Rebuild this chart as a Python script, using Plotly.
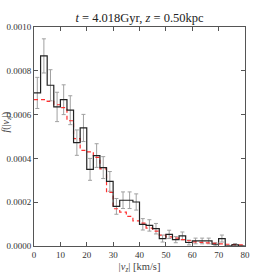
import plotly.graph_objects as go

# bin edges (km/s) and histogram values f(|v_z|)
bin_width = 2.5
bin_starts = [i * 2.5 for i in range(32)]
hist_vals = [0.000699, 0.000868, 0.000734, 0.000635, 0.000668, 0.000620, 0.000472, 0.000539,
             0.000350, 0.000413, 0.000358, 0.000295, 0.000181, 0.000209, 0.000209, 0.000201,
             0.000099, 0.000094, 0.000079, 0.000034, 0.000053, 0.000029, 0.000046, 0.000016,
             0.000023, 0.000023, 0.000023, 0.000008, 0.000034, 0.000000, 0.000005, 0.000000]
hist_errs = [0.000071, 0.000078, 0.000071, 0.000067, 0.000068, 0.000066, 0.000058, 0.000062,
             0.000050, 0.000054, 0.000050, 0.000045, 0.000036, 0.000038, 0.000038, 0.000037,
             0.000026, 0.000026, 0.000024, 0.000016, 0.000019, 0.000014, 0.000018, 0.000011,
             0.000013, 0.000013, 0.000013, 0.000007, 0.000016, 0.000000, 0.000006, 0.000000]
model_vals = [0.000668, 0.000668, 0.000660, 0.000645, 0.000632, 0.000572, 0.000490, 0.000437,
              0.000430, 0.000405, 0.000352, 0.000245, 0.000170, 0.000155, 0.000135, 0.000115,
              0.000104, 0.000082, 0.000068, 0.000050, 0.000042, 0.000036, 0.000029, 0.000024,
              0.000019, 0.000017, 0.000014, 0.000012, 0.000010, 0.000008, 0.000006, 0.000005]
x_end = 80.0

y_ticks = [0.0, 0.0002, 0.0004, 0.0006, 0.0008, 0.0010]
y_tick_text = ["0.0000", "0.0002", "0.0004", "0.0006", "0.0008", "0.0010"]
x_ticks = [0, 10, 20, 30, 40, 50, 60, 70, 80]

step_x = bin_starts + [x_end]
centers = [s + bin_width / 2 for s in bin_starts]

FONT = "Liberation Serif"
AX = "#555555"

fig = go.Figure()
fig.add_trace(go.Scatter(
    x=centers, y=hist_vals, mode="markers",
    marker=dict(size=0.1, color="rgba(0,0,0,0)"),
    error_y=dict(type="data", array=hist_errs, color="#a0a0a0", thickness=1, width=2),
    showlegend=False, hoverinfo="skip"))
fig.add_trace(go.Scatter(
    x=step_x, y=model_vals + [model_vals[-1]], mode="lines", line_shape="hv",
    line=dict(color="#ff3030", width=1.2, dash="4px,3px"), showlegend=False))
fig.add_trace(go.Scatter(
    x=step_x, y=hist_vals + [hist_vals[-1]], mode="lines", line_shape="hv",
    line=dict(color="#222222", width=1.2), showlegend=False))

fig.update_layout(
    width=274, height=274,
    margin=dict(l=34, r=29, t=27, b=28, autoexpand=False),
    paper_bgcolor="white", plot_bgcolor="white",
    font=dict(family=FONT, size=9, color="#333333"),
    title=dict(text="<i>t</i> = 4.018Gyr, <i>z</i> = 0.50kpc",
               x=0.5, xref="paper", y=1 - 18 / 274, yref="container",
               yanchor="middle", xanchor="center",
               font=dict(family=FONT, size=12.5, color="#222222")),
    xaxis=dict(range=[0, 80], tickvals=x_ticks, ticks="inside", ticklen=4,
               tickcolor=AX, showline=True, linecolor=AX, linewidth=1, mirror="ticks",
               showgrid=False, zeroline=False, automargin=False,
               title=dict(text="|<i>v<sub>z</sub></i>| [km/s]", standoff=3,
                          font=dict(family=FONT, size=10.5, color="#444444"))),
    yaxis=dict(range=[0, 0.001], tickvals=y_ticks, ticktext=y_tick_text, ticks="inside",
               ticklen=4, tickcolor=AX, showline=True, linecolor=AX, linewidth=1,
               mirror="ticks", showgrid=False, zeroline=False, automargin=False),
    annotations=[dict(text="<i>f</i>(|<i>v<sub>z</sub></i>|)", xref="paper", yref="paper",
                      x=-0.131, y=0.565, xanchor="center", yanchor="middle",
                      textangle=-90, showarrow=False,
                      font=dict(family=FONT, size=10, color="#444444"))],
)

fig.write_html("out.html",
               config={"displayModeBar": False},
               post_script="document.body.style.margin='0px';document.body.style.padding='0px';")
